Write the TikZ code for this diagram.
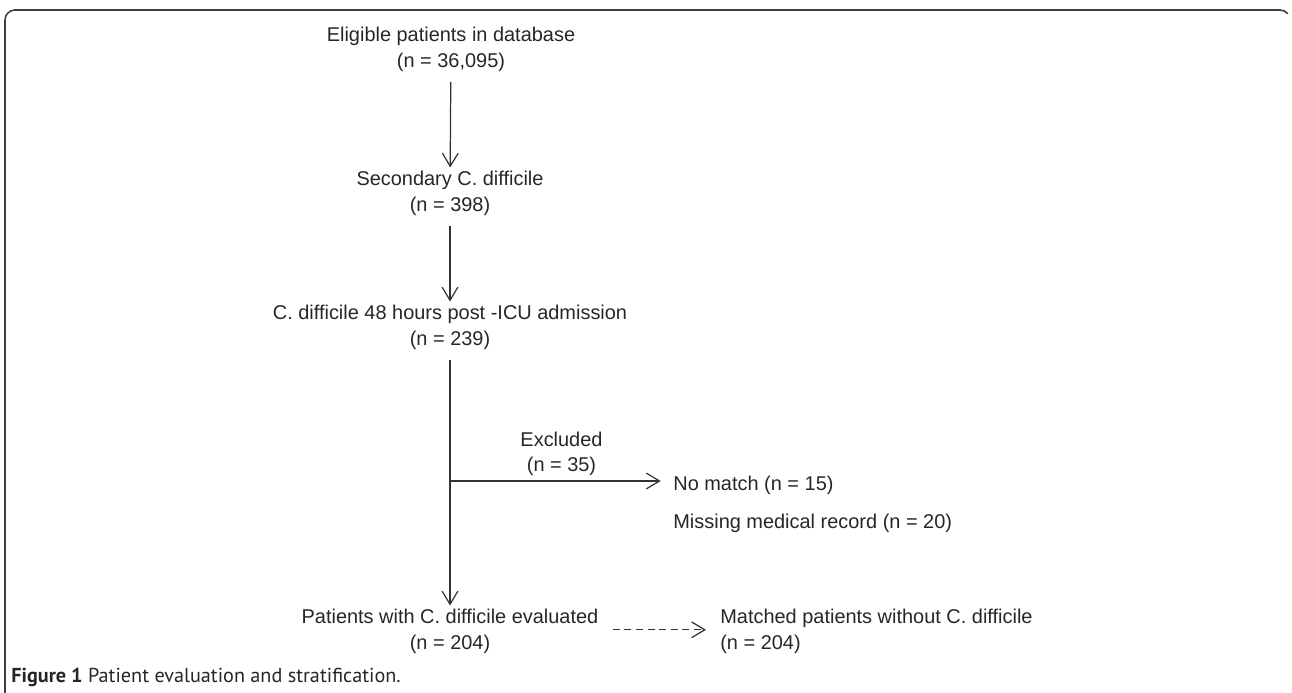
\documentclass[tikz,border=0pt]{standalone}
\usepackage{fontspec}
\setmainfont{Liberation Sans}
\newfontfamily\capfont{PT Sans}
\usetikzlibrary{positioning,arrows.meta}

\begin{document}
\begin{tikzpicture}[
  x=0.02cm, y=-0.02cm,
  node distance=12pt and 20pt,
  every node/.style={font=\fontsize{11.35}{14.7}\selectfont, inner sep=0pt, text=black!85},
  stage/.style={align=center, anchor=north},
  flow/.style={-{Straight Barb[length=7.5pt,width=9pt]}, line width=0.7pt, black!80},
  match/.style={flow, dashed, dash pattern=on 4pt off 2.6pt},
  frame/.style={line width=0.9pt, black!75, line cap=round}
  ]

\useasboundingbox (0,0) rectangle (1292,693);
\draw[frame] (5,693) -- (5,20) arc[start angle=180, end angle=270, radius=10] -- (1280,10)
  arc[start angle=270, end angle=320, radius=10];

\node[stage] (eligible) at (451,27) {Eligible patients in database\\(n = 36,095)};
\node[stage] (secondary) at (450,171) {Secondary C. difficile\\(n = 398)};
\node[stage] (posticu) at (450,305) {C. difficile 48 hours post -ICU admission\\(n = 239)};
\node[stage] (evaluated) at (450,609) {Patients with C. difficile evaluated\\(n = 204)};
\node[align=left, anchor=north west] (matched) at (720,609) {Matched patients without C. difficile\\(n = 204)};

\node[anchor=base west] (nomatch) at (673,490) {No match (n = 15)};
\node[anchor=base west] (missing) at (673,528) {Missing medical record (n = 20)};
\coordinate (split) at ([yshift=2.2pt]posticu.south |- nomatch.west);

\draw[flow, shorten <=5.5pt, shorten >=2pt] (eligible) -- (secondary);
\draw[flow, shorten <=5.5pt, shorten >=2pt] (secondary) -- (posticu);
\draw[flow, shorten <=5.5pt, shorten >=2pt] (posticu) -- (evaluated);
\draw[flow, shorten >=7pt] (split) -- node[above=2.5pt, align=center] {Excluded\\(n = 35)} (split -| nomatch.west);
\draw[match, shorten <=8pt, shorten >=8pt] ([yshift=1pt]evaluated.east |- matched.west) -- ([yshift=1pt]matched.west);

\node[anchor=base west, font=\capfont\fontsize{11.5}{14}\selectfont] (caption) at (11,682)
  {\textbf{Figure 1} Patient evaluation and stratification.};

\end{tikzpicture}
\end{document}
